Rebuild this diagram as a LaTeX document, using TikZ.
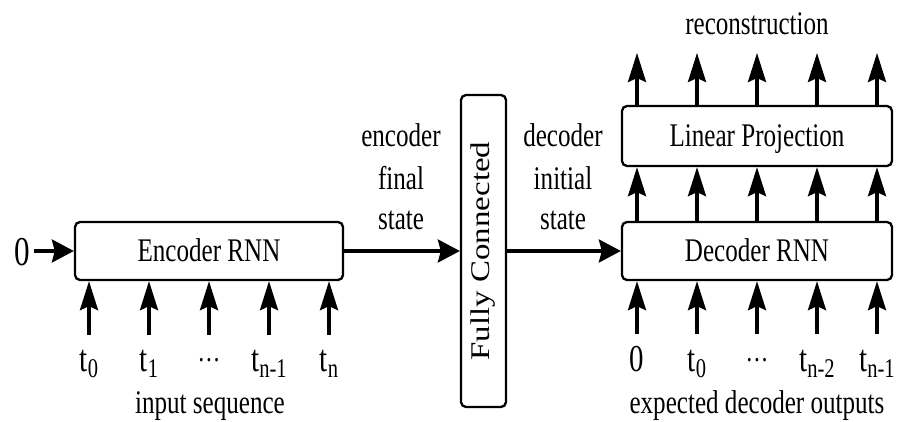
\documentclass[tikz,border=0pt]{standalone}
\usepackage{fontspec}
\setmainfont{Liberation Serif}[FakeStretch=0.76]
\newfontfamily\fcfont{Liberation Serif}[FakeStretch=1.22]
\usetikzlibrary{arrows.meta}
\newcommand\txtsize{\fontsize{33pt}{40pt}\selectfont}
\newcommand\seqsize{\fontsize{38pt}{44pt}\selectfont}
\newcommand\subidx[1]{\raisebox{-6pt}{\fontsize{27pt}{30pt}\selectfont #1}}
\newcommand\midots{\raisebox{10pt}{\fontsize{30pt}{30pt}\selectfont …}}

\begin{document}
\begin{tikzpicture}[x=1pt,y=1pt,
  block/.style={draw, line width=2.3pt, rounded corners=5pt, inner sep=0pt,
    text height=22pt, text depth=0pt, font=\txtsize},
  vflow/.style={line width=3.4pt, -{Stealth[length=29pt,width=18pt,inset=4pt]}},
  hflow/.style={line width=3.4pt, -{Stealth[length=22pt,width=23pt,inset=3pt]}},
  txt/.style={inner sep=0pt, anchor=base, font=\txtsize},
  seq/.style={inner sep=0pt, anchor=base, font=\seqsize}]
\useasboundingbox (0,0) rectangle (898,421);

% blocks
\node[block, minimum width=268pt, minimum height=58pt] (enc) at (209,170) {Encoder RNN};
\node[block, minimum width=45pt, minimum height=312pt] (fc) at (483.5,170) {};
\node[inner sep=0pt, rotate=90, font=\fcfont\fontsize{27pt}{30pt}\selectfont]
  (fclabel) at (fc.center) {Fully Connected};
\node[block, minimum width=270pt, minimum height=58pt] (dec) at (757,170) {Decoder RNN};
\node[block, minimum width=270pt, minimum height=60pt] (lp) at (757,285) {Linear Projection};

% initial state of the encoder
\node[inner sep=0pt, anchor=base, font=\fontsize{41pt}{44pt}\selectfont] (zero) at (22,155) {0};
\draw[hflow, shorten <=4pt] (zero.east |- enc.west) -- (enc.west);

% encoder inputs
\foreach \x/\lab [count=\i] in {89/{t\subidx{0}}, 149/{t\subidx{1}}, 209/{\midots},
                                269/{t\subidx{n-1}}, 329/{t\subidx{n}}} {
  \node[seq] (ein\i) at (\x,50) {\lab};
  \coordinate (etail\i) at (\x,86);
  \draw[vflow] (etail\i) -- (etail\i |- enc.south);
}

% state hand-over
\draw[hflow] (enc.east) -- (fc.west);
\draw[hflow] (fc.east) -- (dec.west);
\node[txt] (encA) at (401,274) {encoder};
\node[txt] (encB) at (401,231) {final};
\node[txt] (encC) at (401,191) {state};
\node[txt] (decA) at (563,274) {decoder};
\node[txt] (decB) at (563,231) {initial};
\node[txt] (decC) at (563,191) {state};

% decoder inputs and outputs
\foreach \x/\lab [count=\i] in {637/0, 697/{t\subidx{0}}, 757/{\midots},
                                817/{t\subidx{n-2}}, 877/{t\subidx{n-1}}} {
  \node[seq] (dout\i) at (\x,50) {\lab};
  \coordinate (dtail\i) at (\x,87);
  \coordinate (rhead\i) at (\x,368);
  \draw[vflow] (dtail\i) -- (dtail\i |- dec.south);
  \draw[vflow] (dtail\i |- dec.north) -- (dtail\i |- lp.south);
  \draw[vflow] (rhead\i |- lp.north) -- (rhead\i);
}

% captions
\node[txt] (inseq) at (210,8) {input sequence};
\node[txt] (expout) at (757,8) {expected decoder outputs};
\node[txt] (recon) at (757,386) {reconstruction};
\end{tikzpicture}
\end{document}
